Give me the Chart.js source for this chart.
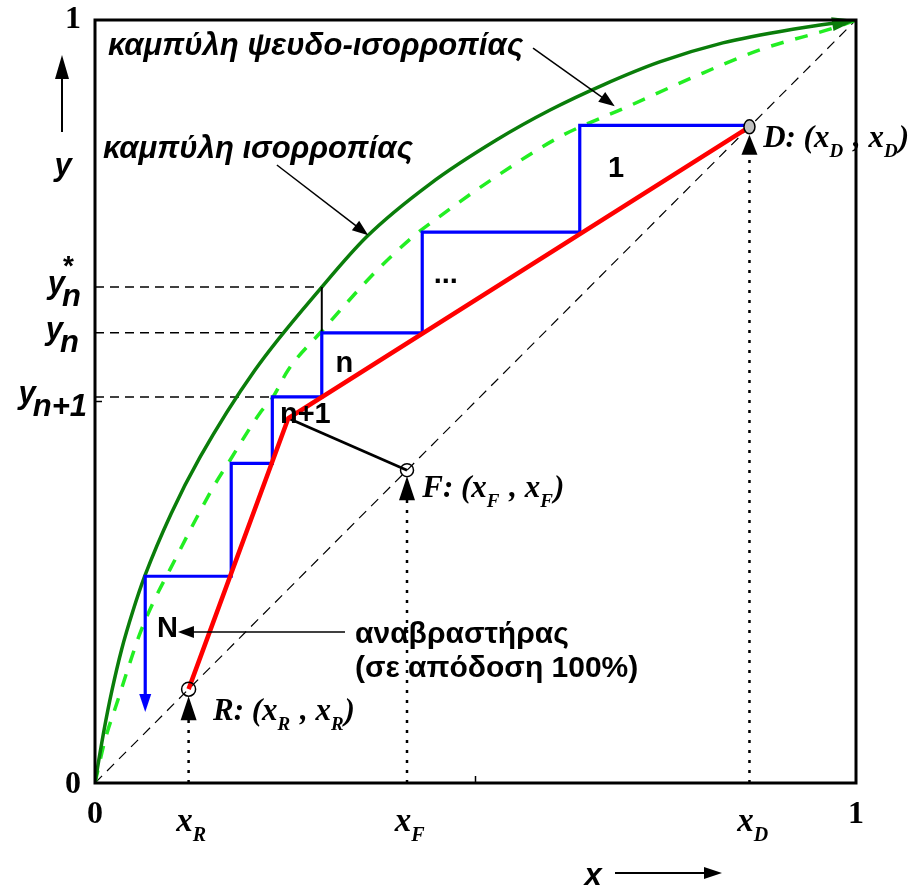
<!DOCTYPE html>
<html><head><meta charset="utf-8">
<script src="https://cdn.jsdelivr.net/npm/chart.js@4.4.1/dist/chart.umd.min.js"></script>
<style>html,body{margin:0;padding:0;background:#fff;}canvas{display:block;}</style>
</head><body>
<canvas id="c" width="911" height="888"></canvas>
<script>
// ---------- data ----------
const equilibriumX = [0, 0.005, 0.012, 0.022, 0.035, 0.050, 0.0657, 0.100, 0.138, 0.210, 0.298, 0.357, 0.440, 0.528, 0.598, 0.668, 0.742, 0.825, 0.917, 1.0];
const equilibriumY = [0, 0.030, 0.070, 0.120, 0.175, 0.226, 0.272, 0.353, 0.427, 0.541, 0.650, 0.716, 0.785, 0.843, 0.882, 0.915, 0.945, 0.970, 0.988, 1.0];
const pseudoX = [0, 0.0131, 0.0302, 0.046, 0.0591, 0.0762, 0.0986, 0.155, 0.1774, 0.2168, 0.234, 0.2536, 0.2996, 0.3706, 0.4179, 0.4468, 0.520, 0.611, 0.699, 0.786, 0.874, 0.975, 1.0];
const pseudoY = [0, 0.056, 0.109, 0.158, 0.196, 0.236, 0.280, 0.387, 0.423, 0.485, 0.506, 0.541, 0.594, 0.672, 0.716, 0.738, 0.790, 0.847, 0.886, 0.925, 0.961, 0.991, 1.0];
const xR = 0.123, xF = 0.41, xD = 0.86;
const kinkX = 0.254, kinkY = 0.478;
const stairX = [0.86, 0.637, 0.637, 0.430, 0.430, 0.298, 0.298, 0.233, 0.233, 0.179, 0.179, 0.066, 0.066];
const stairY = [0.862, 0.862, 0.722, 0.722, 0.590, 0.590, 0.506, 0.506, 0.419, 0.419, 0.271, 0.271, 0.105];
const stairArrowTipY = 0.093;
const yNStar = 0.650, yN = 0.590, yN1 = 0.506;
const xN = 0.298, xN1 = 0.233;
const tickValues = [0.5];
const axisMin = 0, axisMax = 1;

const toPts = (xs, ys) => xs.map((x, i) => ({x, y: ys[i]}));

const SANS = '"Liberation Sans", Arial, sans-serif';
const SERIF = '"Liberation Serif", "Times New Roman", serif';

function arrowHead(ctx, x0, y0, x1, y1, len, halfW, color) {
  const a = Math.atan2(y1 - y0, x1 - x0);
  ctx.save();
  ctx.fillStyle = color;
  ctx.beginPath();
  ctx.moveTo(x1, y1);
  ctx.lineTo(x1 - len * Math.cos(a) + halfW * Math.sin(a), y1 - len * Math.sin(a) - halfW * Math.cos(a));
  ctx.lineTo(x1 - len * Math.cos(a) - halfW * Math.sin(a), y1 - len * Math.sin(a) + halfW * Math.cos(a));
  ctx.closePath();
  ctx.fill();
  ctx.restore();
}
function arrow(ctx, x0, y0, x1, y1, lw, len, halfW, color) {
  const a = Math.atan2(y1 - y0, x1 - x0);
  ctx.save();
  ctx.strokeStyle = color; ctx.lineWidth = lw;
  ctx.beginPath(); ctx.moveTo(x0, y0);
  ctx.lineTo(x1 - len * 0.8 * Math.cos(a), y1 - len * 0.8 * Math.sin(a));
  ctx.stroke();
  ctx.restore();
  arrowHead(ctx, x0, y0, x1, y1, len, halfW, color);
}
function rich(ctx, parts, x, y) {
  let cx = x;
  parts.forEach(p => {
    ctx.font = p.f;
    ctx.fillText(p.t, cx, y + (p.dy || 0));
    cx += ctx.measureText(p.t).width + (p.gap || 0);
  });
}

const overlay = {
  id: 'overlay',
  afterDatasetsDraw(chart) {
    const ctx = chart.ctx, sx = chart.scales.x, sy = chart.scales.y, a = chart.chartArea;
    const X = v => sx.getPixelForValue(v), Y = v => sy.getPixelForValue(v);
    ctx.save();
    // keyhole triangles under the R, F, D markers
    [[xR, 7, 31, 8], [xF, 6, 30, 8], [xD, 8, 28, 8]].forEach(([v, t, b, w]) => {
      const px = X(v), py = Y(v);
      ctx.fillStyle = '#000';
      ctx.beginPath();
      ctx.moveTo(px, py + t); ctx.lineTo(px + w, py + b); ctx.lineTo(px - w, py + b); ctx.closePath(); ctx.fill();
    });
    // D marker: grey ellipse
    ctx.beginPath();
    ctx.ellipse(X(xD), Y(xD), 5.5, 7, 0, 0, Math.PI * 2);
    ctx.fillStyle = '#c0c0c0'; ctx.fill();
    ctx.strokeStyle = '#000'; ctx.lineWidth = 1.5; ctx.stroke();
    // blue stair arrow head
    arrowHead(ctx, X(stairX[stairX.length - 1]), Y(stairY[stairY.length - 2]), X(stairX[stairX.length - 1]), Y(stairArrowTipY), 18, 6, '#0000ff');
    // green arrow head at (1,1)
    const n = equilibriumX.length;
    arrowHead(ctx, X(equilibriumX[n - 3]), Y(equilibriumY[n - 3]), X(1), Y(1), 24, 7, '#0a7d0a');
    // frame
    ctx.strokeStyle = '#000'; ctx.lineWidth = 3;
    ctx.strokeRect(a.left, a.top, a.right - a.left, a.bottom - a.top);
    // ticks at 0.5 (inward)
    ctx.lineWidth = 1.5;
    tickValues.forEach(v => {
      ctx.beginPath(); ctx.moveTo(X(v), a.bottom); ctx.lineTo(X(v), a.bottom - 7); ctx.stroke();
      ctx.beginPath(); ctx.moveTo(a.left, Y(v)); ctx.lineTo(a.left + 7, Y(v)); ctx.stroke();
    });
    // pointer arrows
    arrow(ctx, X(0.239), Y(0.810), X(0.359), Y(0.718), 1.5, 16, 6, '#000');
    arrow(ctx, X(0.5756), Y(0.963), X(0.683), Y(0.887), 1.5, 16, 6, '#000');
    arrow(ctx, X(0.3285), Y(0.198), X(0.109), Y(0.198), 1.5, 16, 6, '#000');

    ctx.fillStyle = '#000';
    ctx.textBaseline = 'alphabetic';
    ctx.textAlign = 'left';
    // curve labels
    ctx.font = `bold italic 31px ${SANS}`;
    ctx.fillText('καμπύλη ψευδο-ισορροπίας', X(0.017), Y(0.954));
    ctx.fillText('καμπύλη ισορροπίας', X(0.0105), Y(0.819));
    // stage labels
    ctx.font = `bold 29px ${SANS}`;
    ctx.fillText('1', X(0.674), Y(0.794));
    ctx.fillText('...', X(0.445), Y(0.655));
    ctx.fillText('n', X(0.316), Y(0.539));
    ctx.fillText('n+1', X(0.243), Y(0.472));
    ctx.fillText('N', X(0.0815), Y(0.191));
    ctx.font = `bold 30px ${SANS}`;
    ctx.fillText('αναβραστήρας', X(0.3417), Y(0.1835));
    ctx.fillText('(σε απόδοση 100%)', X(0.3417), Y(0.139));
    // point labels
    const big = `bold italic 31px ${SERIF}`, sub = `bold italic 19px ${SERIF}`;
    const pl = (L, x, y) => rich(ctx, [
      {t: L + ': (x', f: big}, {t: L, f: sub, dy: 10, gap: 2}, {t: ' , x', f: big}, {t: L, f: sub, dy: 10, gap: 1}, {t: ')', f: big}
    ], x, y);
    pl('R', X(0.155), Y(0.0826));
    pl('F', X(0.43), Y(0.375));
    pl('D', X(0.878), Y(0.8335));
    ctx.restore();
  },
  afterDraw(chart) {
    const ctx = chart.ctx, sx = chart.scales.x, sy = chart.scales.y, a = chart.chartArea;
    const X = v => sx.getPixelForValue(v), Y = v => sy.getPixelForValue(v);
    ctx.save();
    ctx.fillStyle = '#000';
    ctx.textBaseline = 'alphabetic';
    // axis numbers
    ctx.font = `bold 32px ${SERIF}`;
    ctx.textAlign = 'center';
    ctx.fillText(String(axisMin), X(0), a.bottom + 40);
    ctx.fillText(String(axisMax), X(1), a.bottom + 40);
    ctx.textAlign = 'right';
    ctx.fillText(String(axisMax), a.left - 14, Y(1) + 8);
    ctx.fillText(String(axisMin), a.left - 14, Y(0) + 10);
    // x-axis named values
    ctx.textAlign = 'left';
    const xl = (L, v) => {
      ctx.font = `bold italic 33px ${SERIF}`;
      const w = ctx.measureText('x').width;
      const px = X(v) - w / 2 - 4;
      ctx.fillText('x', px, a.bottom + 48);
      ctx.font = `bold italic 20px ${SERIF}`;
      ctx.fillText(L, px + w, a.bottom + 58);
    };
    xl('R', xR); xl('F', xF); xl('D', xD);
    // y-axis named values
    const yb = `bold italic 31px ${SANS}`;
    const ylab = (subTxt, v, rightX, star) => {
      ctx.font = yb;
      const wy = ctx.measureText('y').width;
      const ws = ctx.measureText(subTxt).width;
      const left = rightX - ws - wy + 4;
      ctx.fillText('y', left, Y(v) + 6);
      ctx.fillText(subTxt, left + wy - 3, Y(v) + 19);
      if (star) { ctx.font = `bold 28px ${SANS}`; ctx.fillText('*', left + wy - 2, Y(v) - 12); }
    };
    ylab('n', yNStar, 80, true);
    ylab('n', yN, 78, false);
    ylab('n+1', yN1, 86, false);
    // axis titles with arrows
    ctx.font = `bold italic 31px ${SANS}`;
    ctx.textAlign = 'center';
    ctx.fillText('y', 63, 175);
    arrow(ctx, 62, 132, 62, 55, 2, 24, 7, '#000');
    ctx.fillText('x', 593, 885);
    arrow(ctx, 615, 873, 722, 873, 2, 18, 6, '#000');
    ctx.restore();
  }
};

const dashedH = (v, xEnd) => ({data: [{x: 0, y: v}, {x: xEnd, y: v}], borderColor: '#000', borderWidth: 1.5, borderDash: [9, 6], pointRadius: 0, order: 20});
const dottedV = (v, yEnd) => ({data: [{x: v, y: 0}, {x: v, y: yEnd}], borderColor: '#000', borderWidth: 2.5, borderDash: [3, 7], pointRadius: 0, order: 20});

new Chart(document.getElementById('c'), {
  type: 'line',
  data: {
    datasets: [
      {label: 'diagonal', data: [{x: 0, y: 0}, {x: 1, y: 1}], borderColor: '#000', borderWidth: 1.2, borderDash: [10, 7], pointRadius: 0, order: 21},
      dashedH(yNStar, xN), dashedH(yN, xN), dashedH(yN1, xN1),
      dottedV(xR, xR - 0.035), dottedV(xF, xF - 0.035), dottedV(xD, xD - 0.03),
      {label: 'equilibrium', data: toPts(equilibriumX, equilibriumY), borderColor: '#0a7d0a', borderWidth: 3.5, cubicInterpolationMode: 'monotone', pointRadius: 0, order: 10},
      {label: 'pseudo', data: toPts(pseudoX, pseudoY), borderColor: '#22ee22', borderWidth: 3.5, borderDash: [13, 12], cubicInterpolationMode: 'monotone', pointRadius: 0, order: 11},
      {label: 'yn* link', data: [{x: xN, y: yN}, {x: xN, y: yNStar}], borderColor: '#000', borderWidth: 2, pointRadius: 0, order: 9},
      {label: 'stairs', data: toPts(stairX, stairY), borderColor: '#0000ff', borderWidth: 3.2, pointRadius: 0, order: 5},
      {label: 'q-line', data: [{x: xF, y: xF}, {x: kinkX, y: kinkY}], borderColor: '#000', borderWidth: 2.8, pointRadius: 0, order: 4},
      {label: 'operating', data: [{x: xR, y: xR}, {x: kinkX, y: kinkY}, {x: xD, y: xD}], borderColor: '#ff0000', borderWidth: 4.5, pointRadius: 0, order: 3},
      {label: 'points', data: [{x: xR, y: xR}, {x: xF, y: xF}], showLine: false,
        pointRadius: [7, 6.5], pointBorderColor: '#000', pointBorderWidth: 1.5,
        pointBackgroundColor: 'rgba(255,255,255,0)', order: 1}
    ]
  },
  options: {
    responsive: false, animation: false, devicePixelRatio: 1,
    layout: {padding: {left: 95, top: 20, right: 55, bottom: 105}},
    plugins: {legend: {display: false}, tooltip: {enabled: false}},
    scales: {
      x: {type: 'linear', min: axisMin, max: axisMax, display: false},
      y: {type: 'linear', min: axisMin, max: axisMax, display: false}
    }
  },
  plugins: [overlay]
});
</script>
</body></html>
